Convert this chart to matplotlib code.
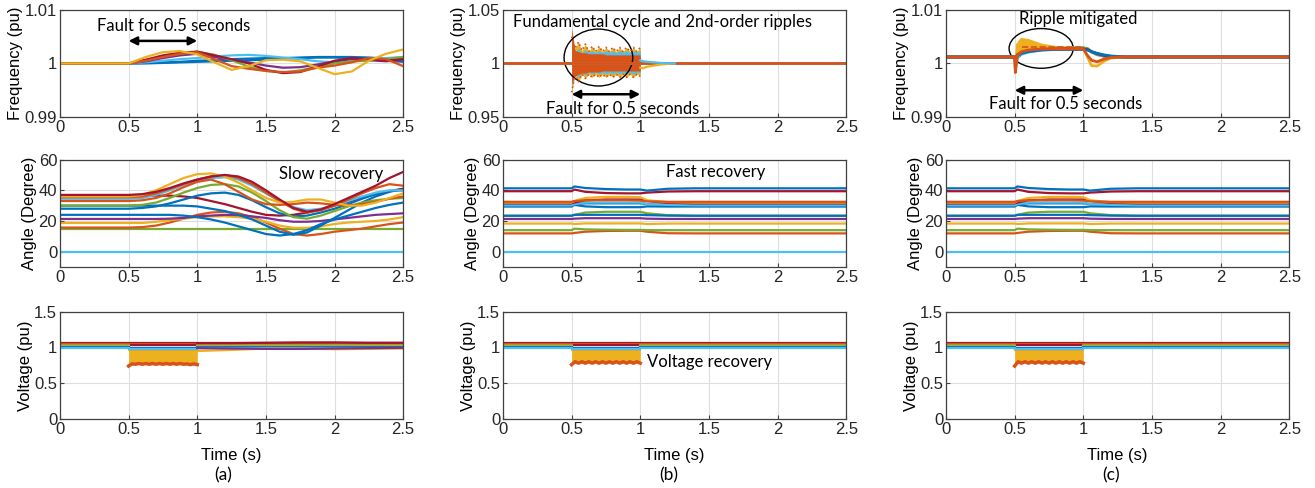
import numpy as np
import matplotlib
matplotlib.use('Agg')
import matplotlib.pyplot as plt
from matplotlib.patches import Ellipse
from matplotlib.ticker import FuncFormatter

plt.rcParams['font.family'] = 'sans-serif'
plt.rcParams['font.sans-serif'] = ['Liberation Sans', 'DejaVu Sans']
plt.rcParams['font.size'] = 12

# MATLAB default line colours
blue, orange, yellow, purple = '#0072BD', '#D95319', '#EDB120', '#7E2F8E'
green, cyan, red = '#77AC30', '#4DBEEE', '#A2142F'
note_font = ['Lato', 'DejaVu Sans']

# ---------------- (a) frequency ----------------
fa_t = [0, 0.5, 0.625, 0.75, 0.875, 1.0, 1.125, 1.25, 1.375, 1.5, 1.625, 1.75, 1.875, 2.0, 2.125, 2.25, 2.375, 2.5]
fa_yellow = [1, 1, 1.0012, 1.0021, 1.0023, 1.0017, 1.0002, 0.9988, 0.9995, 1.0006, 1.0007, 1.0004, 0.9992, 0.998, 0.9985, 1.0005, 1.0018, 1.0026]
fa_orange = [1, 1, 1.0005, 1.0012, 1.0018, 1.0021, 1.0008, 0.9995, 0.999, 0.9986, 0.9984, 0.9985, 0.9992, 0.9996, 1.0002, 1.001, 1.0008, 0.9995]
fa_red = [1, 1, 1.0007, 1.0015, 1.002, 1.0022, 1.0015, 1.0008, 1.0, 0.9988, 0.9982, 0.9984, 0.9994, 1.0005, 1.001, 1.0008, 1.0005, 1.0008]
fa_green = [1, 1, 1.0006, 1.0013, 1.0018, 1.0022, 1.0016, 1.0006, 0.9994, 0.9986, 0.9983, 0.9987, 0.9994, 1.0, 1.0004, 1.0005, 1.0008, 1.0012]
fa_purple = [1, 1, 1.0004, 1.001, 1.0015, 1.0018, 1.0012, 1.0006, 1.0002, 0.9996, 0.9992, 0.9993, 0.9998, 1.0004, 1.0008, 1.0006, 1.0004, 1.0007]
fa_cyan = [1, 1, 1.0002, 1.0005, 1.0008, 1.001, 1.0013, 1.0015, 1.0016, 1.0014, 1.0011, 1.0008, 1.0004, 1.0002, 1.0004, 1.0008, 1.001, 1.0012]
fa_blue = [1, 1, 1.0001, 1.0002, 1.0003, 1.0005, 1.0006, 1.0008, 1.0009, 1.001, 1.001, 1.0011, 1.0012, 1.0012, 1.0012, 1.0011, 1.0009, 1.0007]
fa_blue2 = [1, 1, 1, 1.0001, 1.0002, 1.0003, 1.0004, 1.0005, 1.0006, 1.0007, 1.0009, 1.001, 1.0011, 1.0011, 1.001, 1.0008, 1.0005, 1.0003]

# ---------------- (a) angle ----------------
aa_t = [0, 0.5, 0.6, 0.7, 0.8, 0.9, 1.0, 1.1, 1.2, 1.3, 1.4, 1.5, 1.6, 1.7, 1.8, 1.9, 2.0, 2.1, 2.2, 2.3, 2.4, 2.5]
aa_red1 = [37, 37, 37.5, 39, 41.5, 44.5, 47, 49, 50, 49, 45.5, 40, 34, 28.5, 26, 27.5, 31, 35, 39, 43, 48, 52]
aa_yel1 = [36, 36, 37, 40, 44, 48, 50.5, 51, 49, 45, 40, 35, 32, 32.5, 34, 34, 32, 30, 30, 32, 35, 38]
aa_ora1 = [35.5, 35.5, 36, 38, 41, 44, 47, 49, 50, 48, 44, 38.5, 33, 28, 25.5, 27, 30, 34, 38, 41.5, 44, 43]
aa_ora2 = [33, 33, 33.5, 35, 38, 42, 45.5, 47, 44, 39, 34, 31, 30.5, 31, 32, 31.5, 30.5, 30, 31, 32.5, 34.5, 36]
aa_cya1 = [34.5, 34.5, 35, 37, 40, 43.5, 46, 48, 48.5, 47, 43, 38, 33, 29, 27, 28, 30, 33, 36, 38.5, 40, 40]
aa_grn1 = [30, 30, 30.5, 32, 35, 38.5, 41.5, 43.5, 44, 42.5, 38.5, 33, 27, 22.5, 21.5, 23.5, 26.5, 29.5, 32, 33.5, 34.5, 35]
aa_blu1 = [28, 28, 28.5, 29.5, 31.5, 34, 36.5, 38, 38.5, 37, 33.5, 29, 25, 23, 23.5, 25.5, 28, 31, 34.5, 37.5, 39.5, 40]
aa_red2 = [36.5, 36.5, 36.5, 36.5, 36.5, 36, 35, 33, 31, 28.5, 26, 24, 23.5, 24, 25.5, 27.5, 30, 32.5, 35, 37.5, 39.5, 41]
aa_blu2 = [30, 30, 30, 30, 30, 30, 29.5, 28, 26.5, 24, 21, 17, 13, 11, 12.5, 17, 22, 27, 32, 36, 39, 41]
aa_blu3 = [24, 24, 24, 24, 24, 23.5, 22.5, 21, 19, 16.5, 14, 11.5, 10.5, 11.5, 14, 18, 21, 23.5, 26, 28.5, 30.5, 32]
aa_pur = [21.3, 21.3, 21.3, 21.3, 21.5, 22, 23, 23.5, 24, 23.8, 23, 22, 20.5, 19.5, 19.5, 20, 21, 22, 23, 24, 24.5, 25]
aa_yel2 = [18.7, 18.7, 18.7, 19.5, 20.5, 21.5, 22.5, 23, 23, 22.5, 21.5, 19.5, 17, 15.5, 15.5, 16.5, 18, 19, 19.5, 20, 21, 22.5]
aa_ora3 = [15.7, 15.7, 16, 17, 19, 21.5, 24, 25.5, 26, 25, 22.5, 19, 15, 11.5, 10.5, 11.5, 13, 14, 15, 16.5, 18, 19]
flat_t = [0, 2.5]
aa_grn2 = [14.7, 14.7]
ang_ref = [0, 0]

# ---------------- (b) frequency ----------------
fb_base_t = [0, 2.5]
fb_base_ora = [1.0, 1.0]
fb_base_cya = [1.0008, 1.0008]
rip_t = np.linspace(0.5, 1.0, 21)
fb_yel_hi = [1.025, 1.014, 1.020, 1.012, 1.018, 1.011, 1.016, 1.011, 1.016, 1.011, 1.015, 1.011, 1.015, 1.011, 1.015, 1.011, 1.015, 1.011, 1.015, 1.011, 1.015]
fb_yel_lo = [0.973, 0.990, 0.983, 0.990, 0.986, 0.990, 0.987, 0.990, 0.987, 0.990, 0.987, 0.990, 0.987, 0.990, 0.987, 0.990, 0.987, 0.990, 0.987, 0.990, 0.988]
fb_cya_hi = [1.020, 1.011, 1.014, 1.010, 1.013, 1.010, 1.012, 1.010, 1.012, 1.010, 1.012, 1.010, 1.012, 1.010, 1.012, 1.010, 1.012, 1.010, 1.012, 1.010, 1.012]
fb_cya_lo = [0.978, 0.991, 0.987, 0.992, 0.989, 0.992, 0.990, 0.992, 0.990, 0.992, 0.990, 0.992, 0.990, 0.992, 0.990, 0.992, 0.990, 0.992, 0.990, 0.992, 0.991]
fb_ora_hi = [1.033, 1.012, 1.011, 1.010, 1.010, 1.009, 1.009, 1.009, 1.009, 1.009, 1.008, 1.008, 1.008, 1.008, 1.008, 1.008, 1.008, 1.008, 1.008, 1.008, 1.008]
fb_ora_lo = [0.982, 0.988, 0.990, 0.991, 0.991, 0.992, 0.992, 0.992, 0.992, 0.993, 0.993, 0.993, 0.993, 0.993, 0.993, 0.993, 0.993, 0.993, 0.993, 0.993, 0.993]
fb_tail_t = [1.0, 1.02, 1.05, 1.1, 1.15, 1.25]
fb_tail_yel = [0.996, 0.9955, 0.997, 0.998, 0.999, 1.0]
fb_tail_cya = [1.003, 1.002, 1.0015, 1.001, 1.0005, 1.0]

# ---------------- (c) frequency ----------------
fc_t = [0, 0.5, 0.505, 0.52, 0.55, 0.6, 0.7, 0.8, 0.9, 1.0, 1.03, 1.06, 1.1, 1.15, 1.2, 1.3, 1.5, 2.5]
fc_yellow = [1.0012, 1.0012, 0.9992, 1.0035, 1.0045, 1.0043, 1.0034, 1.003, 1.0029, 1.0029, 1.0012, 0.9996, 0.9995, 1.0004, 1.001, 1.0012, 1.0012, 1.0012]
fc_orange = [1.0012, 1.0012, 0.9983, 1.0015, 1.0022, 1.0025, 1.0027, 1.0027, 1.0027, 1.0027, 1.0015, 1.0006, 1.0003, 1.0008, 1.0011, 1.0012, 1.0012, 1.0012]
fc_blue = [1.0012, 1.0012, 1.0004, 1.0014, 1.0019, 1.0022, 1.0025, 1.0026, 1.0026, 1.0026, 1.0025, 1.0022, 1.0019, 1.0016, 1.0014, 1.0012, 1.0012, 1.0012]
fc_cyan = [1.0012, 1.0012, 0.999, 1.001, 1.0017, 1.0021, 1.0025, 1.0027, 1.0028, 1.0029, 1.0027, 1.0021, 1.0016, 1.0013, 1.0012, 1.0012, 1.0012, 1.0012]
fc_green = [1.0012, 1.0012, 1.0006, 1.0016, 1.002, 1.0023, 1.0026, 1.0027, 1.0028, 1.0029, 1.0028, 1.0022, 1.0017, 1.0014, 1.0012, 1.0012, 1.0012, 1.0012]
fc_red = [1.0012, 1.0012, 1.0007, 1.0016, 1.0021, 1.0024, 1.0026, 1.0027, 1.0027, 1.0027, 1.0026, 1.0022, 1.0018, 1.0015, 1.0013, 1.0012, 1.0012, 1.0012]
fc_dash_t = [0.55, 1.0]
fc_dash = [1.003, 1.003]

# ---------------- (b)/(c) angle ----------------
ab_t = [0, 0.5, 0.52, 0.6, 0.75, 0.9, 1.0, 1.05, 1.2, 1.4, 2.5]
ab_blu1 = [41.3, 41.3, 42.5, 41.5, 40.8, 40.5, 40.5, 39.8, 41, 41.3, 41.3]
ab_red1 = [39.4, 39.4, 40.5, 39, 38.2, 38, 38, 38.5, 39.2, 39.4, 39.4]
ab_ora1 = [32.5, 32.5, 33, 33.5, 33.5, 33.5, 33.3, 32.8, 32.5, 32.5, 32.5]
ab_yel1 = [32, 32, 33, 35, 35.7, 35.7, 35.5, 33.5, 32.3, 32, 32]
ab_red2 = [31.5, 31.5, 32, 33.5, 34, 34, 34, 33, 31.8, 31.5, 31.5]
ab_cya1 = [30.2, 30.2, 31, 32, 32, 32, 32, 31, 30.5, 30.2, 30.2]
ab_blu2 = [29.4, 29.4, 30.5, 29.5, 29, 29, 29, 29.5, 29.4, 29.4, 29.4]
ab_blu3 = [31, 31, 31, 31.5, 31.5, 31.5, 31.5, 31, 30.5, 30.5, 30.5]
ab_grn1 = [23.4, 23.4, 24, 25.5, 26, 26, 26, 25, 23.8, 23.4, 23.4]
ab_blu4 = [23.4, 23.4, 24, 24, 24, 24, 24, 23.8, 23.5, 23.4, 23.4]
ab_pur = [21.3, 21.3, 21.5, 21.8, 21.8, 21.8, 21.8, 21.5, 21.3, 21.3, 21.3]
ab_yel2 = [18.3, 18.3, 18, 18.4, 18.4, 18.4, 18.4, 18, 18.3, 18.3, 18.3]
ab_grn2 = [14, 14, 15, 14.5, 14.3, 14.2, 14.2, 14, 14, 14, 14]
ab_ora2 = [11.9, 11.9, 12.2, 13, 13.5, 13.6, 13.6, 13, 12, 11.9, 11.9]

# ---------------- voltage ----------------
v_t = [0, 0.5, 0.5, 1.0, 1.0, 2.5]
v_colors = [red, orange, red, green, yellow, purple, blue, cyan]
v_pre = [1.065, 1.05, 1.04, 1.03, 1.02, 1.01, 1.0, 0.99]
v_fault = [1.055, 1.045, 1.04, 0.975, 0.97, 0.975, 0.99, 0.98]
v_fill_top = 0.97
va_rip = [0.74, 0.77, 0.765, 0.775, 0.765, 0.775, 0.765, 0.775, 0.765, 0.775, 0.765, 0.775, 0.765, 0.775, 0.765, 0.775, 0.765, 0.77, 0.76, 0.77, 0.76]
vb_rip = [0.76, 0.80, 0.78, 0.80, 0.78, 0.80, 0.78, 0.80, 0.78, 0.80, 0.78, 0.80, 0.78, 0.80, 0.78, 0.80, 0.78, 0.80, 0.78, 0.80, 0.78]
vc_rip = [0.74, 0.80, 0.78, 0.80, 0.78, 0.80, 0.78, 0.80, 0.78, 0.80, 0.78, 0.80, 0.78, 0.80, 0.78, 0.80, 0.78, 0.80, 0.78, 0.80, 0.78]
va_post_t = [1.0, 1.25, 1.5, 1.75, 2.0, 2.25, 2.5]
va_post_yel = [0.95, 0.965, 0.985, 0.985, 0.975, 0.98, 0.985]
va_post_pur = [0.99, 0.985, 0.98, 0.98, 0.985, 0.99, 0.995]
va_post_red = [1.06, 1.06, 1.065, 1.07, 1.07, 1.065, 1.065]

xticks = [0, 0.5, 1, 1.5, 2, 2.5]
lw = 1.6

fig = plt.figure(figsize=(13.15, 4.88), dpi=100)
lefts = [0.0456, 0.3825, 0.7194]
bottoms = [0.760, 0.4529, 0.1414]
w, h = 0.261, 0.22
axes = [[fig.add_axes([l, b, w, h]) for l in lefts] for b in bottoms]

fmt = FuncFormatter(lambda v, p: f'{v:g}')
for r, row in enumerate(axes):
    for ax in row:
        ax.set_xlim(0, 2.5)
        ax.set_xticks(xticks)
        ax.xaxis.set_major_formatter(fmt)
        ax.yaxis.set_major_formatter(fmt)
        ax.grid(True, color='#dedede', lw=0.8)
        ax.set_axisbelow(True)
        ax.tick_params(direction='in', length=3, color='#404040', labelcolor='#262626', pad=2)
        for s in ax.spines.values():
            s.set_color('#404040')
            s.set_linewidth(0.9)

arrow = dict(arrowstyle='<|-|>', color='k', lw=1.8, mutation_scale=12, shrinkA=0, shrinkB=0)

# ---- row 1: frequency ----
ax = axes[0][0]
for c, v in [(blue, fa_blue2), (blue, fa_blue), (cyan, fa_cyan), (purple, fa_purple), (green, fa_green),
             (red, fa_red), (orange, fa_orange), (yellow, fa_yellow)]:
    ax.plot(fa_t, v, color=c, lw=lw)
ax.set_ylim(0.99, 1.01)
ax.set_yticks([0.99, 1, 1.01])
ax.set_ylabel('Frequency (pu)', labelpad=1)
ax.annotate('', xy=(1.0, 1.0042), xytext=(0.5, 1.0042), arrowprops=arrow)
ax.text(0.83, 1.007, 'Fault for 0.5 seconds', ha='center', va='center', fontsize=12, family=note_font)

ax = axes[0][1]
ax.plot(fb_base_t, fb_base_cya, color=cyan, lw=2)
ax.plot(fb_base_t, fb_base_ora, color=orange, lw=2)
ax.fill_between(rip_t, fb_yel_lo, fb_yel_hi, color=yellow, lw=0)
ax.plot(rip_t, fb_yel_hi, color=orange, lw=1.2, ls=':')
ax.plot(rip_t, fb_yel_lo, color=orange, lw=1.2, ls=':')
ax.fill_between(rip_t, fb_cya_lo, fb_cya_hi, color=cyan, lw=0)
ax.fill_between(rip_t, fb_ora_lo, fb_ora_hi, color=orange, lw=0)
ax.plot(fb_tail_t, fb_tail_yel, color=yellow, lw=lw)
ax.plot(fb_tail_t, fb_tail_cya, color=cyan, lw=lw)
ax.set_ylim(0.95, 1.05)
ax.set_yticks([0.95, 1, 1.05])
ax.set_ylabel('Frequency (pu)', labelpad=1)
ax.add_patch(Ellipse((0.695, 1.0055), 0.5, 0.053, fill=False, color='k', lw=1))
ax.annotate('', xy=(1.0, 0.9713), xytext=(0.5, 0.9713), arrowprops=arrow)
ax.text(0.87, 0.958, 'Fault for 0.5 seconds', ha='center', va='center', fontsize=12, family=note_font)
ax.text(1.16, 1.0385, 'Fundamental cycle and 2nd-order ripples', ha='center', va='center', fontsize=12, family=note_font)

ax = axes[0][2]
ax.fill_between(fc_t, fc_orange, fc_yellow, where=[0.5 < t <= 1.0 for t in fc_t], color=yellow, lw=0)
for c, v in [(yellow, fc_yellow), (cyan, fc_cyan), (green, fc_green), (red, fc_red), (blue, fc_blue), (orange, fc_orange)]:
    ax.plot(fc_t, v, color=c, lw=lw + 0.4)
ax.plot(fc_dash_t, fc_dash, color=orange, lw=1.2, ls='--')
ax.set_ylim(0.99, 1.01)
ax.set_yticks([0.99, 1, 1.01])
ax.set_ylabel('Frequency (pu)', labelpad=1)
ax.add_patch(Ellipse((0.693, 1.0028), 0.467, 0.0074, fill=False, color='k', lw=1))
ax.annotate('', xy=(1.0, 0.995), xytext=(0.5, 0.995), arrowprops=arrow)
ax.text(0.87, 0.9925, 'Fault for 0.5 seconds', ha='center', va='center', fontsize=12, family=note_font)
ax.text(0.96, 1.0082, 'Ripple mitigated', ha='center', va='center', fontsize=12, family=note_font)

# ---- row 2: angle ----
ax = axes[1][0]
ax.plot(flat_t, ang_ref, color=cyan, lw=lw)
ax.plot(flat_t, aa_grn2, color=green, lw=lw)
for c, v in [(orange, aa_ora3), (yellow, aa_yel2), (purple, aa_pur), (blue, aa_blu3), (blue, aa_blu2),
             (red, aa_red2), (blue, aa_blu1), (green, aa_grn1), (cyan, aa_cya1), (orange, aa_ora2),
             (orange, aa_ora1), (yellow, aa_yel1), (red, aa_red1)]:
    ax.plot(aa_t, v, color=c, lw=lw)
ax.text(1.975, 50.4, 'Slow recovery', ha='center', va='center', fontsize=12, family=note_font)

ab_lines = [(orange, ab_ora2), (green, ab_grn2), (yellow, ab_yel2), (purple, ab_pur), (green, ab_grn1),
            (blue, ab_blu4), (blue, ab_blu2), (blue, ab_blu3), (cyan, ab_cya1), (red, ab_red2),
            (yellow, ab_yel1), (orange, ab_ora1), (red, ab_red1), (blue, ab_blu1)]
for ax in axes[1][1:]:
    ax.plot(flat_t, ang_ref, color=cyan, lw=lw)
    for c, v in ab_lines:
        ax.plot(ab_t, v, color=c, lw=lw)
axes[1][1].text(1.55, 52, 'Fast recovery', ha='center', va='center', fontsize=12, family=note_font)

for ax in axes[1]:
    ax.set_ylim(-10, 60)
    ax.set_yticks([0, 20, 40, 60])
    ax.set_ylabel('Angle (Degree)', labelpad=1)

# ---- row 3: voltage ----
for ax, rip in zip(axes[2], [va_rip, vb_rip, vc_rip]):
    ax.fill_between(rip_t, rip, v_fill_top, color=yellow, lw=0)
    for c, p, f in zip(v_colors, v_pre, v_fault):
        ax.plot(v_t, [p, p, f, f, p, p], color=c, lw=lw)
    ax.plot(rip_t, rip, color=orange, lw=2.5)
    ax.set_ylim(0, 1.5)
    ax.set_yticks([0, 0.5, 1, 1.5])
    ax.set_ylabel('Voltage (pu)', labelpad=1)
    ax.set_xlabel('Time (s)', labelpad=8)

ax = axes[2][0]
ax.plot(va_post_t, va_post_yel, color=yellow, lw=lw)
ax.plot(va_post_t, va_post_pur, color=purple, lw=lw)
ax.plot(va_post_t, va_post_red, color=red, lw=lw)
axes[2][1].text(1.05, 0.8, 'Voltage recovery', ha='left', va='center', fontsize=12, family=note_font)

for x, s in [(223, '(a)'), (669, '(b)'), (1111, '(c)')]:
    fig.text(x / 1315, 1 - 475 / 488, s, ha='center', va='center', fontsize=12.5, family=note_font)

fig.savefig('out.png', dpi=100)
